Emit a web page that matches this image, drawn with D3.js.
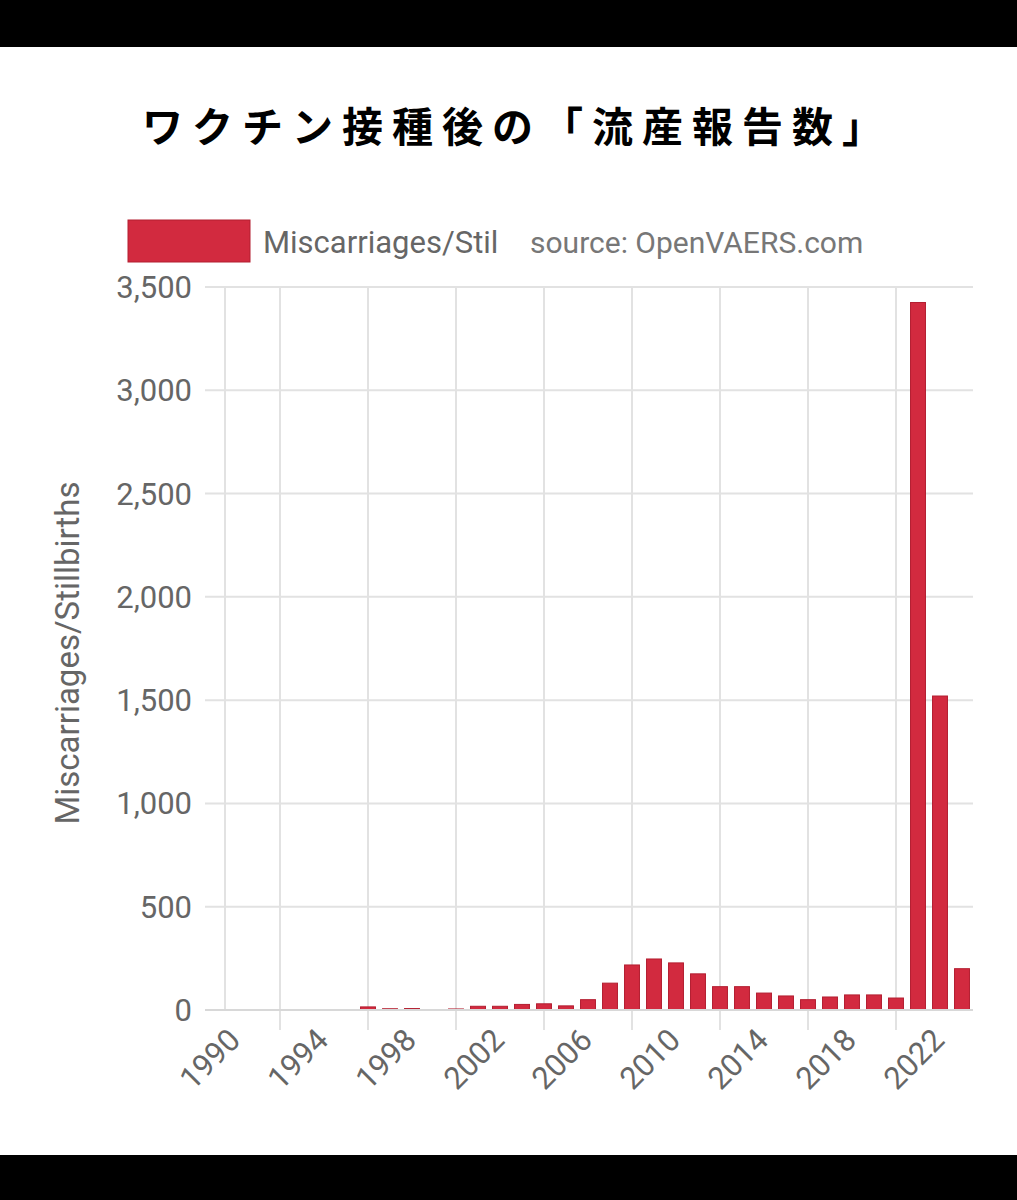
<!DOCTYPE html>
<html lang="ja">
<head>
<meta charset="UTF-8">
<title>流産報告数</title>
<style>
  body { margin: 0; background: #fff; }
  text { font-family: Roboto, "Noto Sans", sans-serif; }
</style>
</head>
<body>
<svg width="1017" height="1200"></svg>
<script src="https://cdn.jsdelivr.net/npm/d3@7"></script>
<script>
var years = d3.range(1990, 2024);
var counts = [2, 2, 0, 0, 1, 1, 15, 6, 7, 0, 5, 18, 18, 27, 30, 20, 50, 130,
              218, 247, 228, 175, 113, 113, 82, 68, 50, 63, 73, 73, 58, 3425, 1520, 200];
var yTicks = [0, 500, 1000, 1500, 2000, 2500, 3000, 3500];
var labelYears = [1990, 1994, 1998, 2002, 2006, 2010, 2014, 2018, 2022];
var gridYears = [1992, 1996, 2000, 2004, 2008, 2012, 2016, 2020];

var svg = d3.select("svg");
svg.append("rect").attr("width", 1017).attr("height", 47).attr("fill", "#000");
svg.append("rect").attr("y", 1155).attr("width", 1017).attr("height", 45).attr("fill", "#000");

svg.append("text").attr("x", 517).attr("y", 142).attr("text-anchor", "middle")
    .style("font-family", "'Noto Sans CJK JP'").style("font-weight", "bold")
    .style("font-size", "41px").style("letter-spacing", "9px")
    .text("ワクチン接種後の「流産報告数」");

var x = d3.scaleBand().domain(years).range([225, 973]).paddingInner(0.32).paddingOuter(0.16);
var y = d3.scaleLinear().domain([0, 3500]).range([1010, 287]);
var cx = function (d) { return x(d) + x.bandwidth() / 2; };

// horizontal grid
svg.append("g").selectAll("line").data(yTicks).join("line")
    .attr("x1", 205).attr("x2", 973).attr("y1", y).attr("y2", y)
    .attr("stroke", "#e2e2e2").attr("stroke-width", 2);
// vertical grid
svg.append("g").selectAll("line").data(gridYears).join("line")
    .attr("x1", cx).attr("x2", cx).attr("y1", 287).attr("y2", 1030)
    .attr("stroke", "#e2e2e2").attr("stroke-width", 2);
svg.append("line").attr("x1", 225).attr("x2", 225).attr("y1", 287).attr("y2", 1010)
    .attr("stroke", "#e2e2e2").attr("stroke-width", 2);

svg.append("g").selectAll("text").data(yTicks).join("text")
    .attr("x", 192).attr("y", function (d) { return y(d) + 11; })
    .attr("text-anchor", "end").attr("fill", "#666").style("font-size", "31px")
    .text(d3.format(","));

svg.append("g").selectAll("rect").data(years).join("rect")
    .attr("x", function (d) { return x(d); })
    .attr("width", x.bandwidth())
    .attr("y", function (d, i) { return y(counts[i]); })
    .attr("height", function (d, i) { return y(0) - y(counts[i]); })
    .attr("fill", "#d22a3f").attr("stroke", "#b31f31").attr("stroke-width", 1);

svg.append("line").attr("x1", 205).attr("x2", 973).attr("y1", 1010).attr("y2", 1010)
    .attr("stroke", "#d8d8d8").attr("stroke-width", 2);

svg.append("g").selectAll("text").data(labelYears).join("text")
    .attr("transform", function (d) { return "translate(" + (cx(d) + 6) + ",1042) rotate(-45)"; })
    .attr("text-anchor", "end").attr("fill", "#666").style("font-size", "31px")
    .text(function (d) { return d; });

svg.append("text").attr("transform", "translate(79,653) rotate(-90)")
    .attr("text-anchor", "middle").attr("fill", "#666").style("font-size", "33px")
    .text("Miscarriages/Stillbirths");

// legend
svg.append("rect").attr("x", 128).attr("y", 220).attr("width", 122).attr("height", 42)
    .attr("fill", "#d22a3f").attr("stroke", "#b31f31");
svg.append("text").attr("x", 263).attr("y", 253).attr("fill", "#666").style("font-size", "31px")
    .text("Miscarriages/Stil");
svg.append("text").attr("x", 530).attr("y", 253).attr("fill", "#777").style("font-size", "30px")
    .text("source: OpenVAERS.com");
</script>
</body>
</html>
